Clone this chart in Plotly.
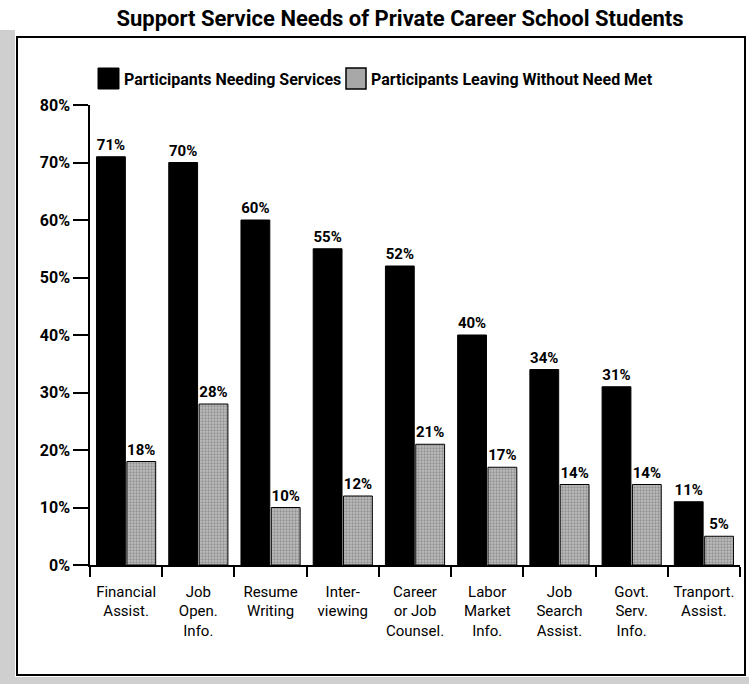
import plotly.graph_objects as go

# Categories (multi-line axis labels) and the two survey series, in percent
categories = [
    "Financial<br>Assist.",
    "Job<br>Open.<br>Info.",
    "Resume<br>Writing",
    "Inter-<br>viewing",
    "Career<br>or Job<br>Counsel.",
    "Labor<br>Market<br>Info.",
    "Job<br>Search<br>Assist.",
    "Govt.<br>Serv.<br>Info.",
    "Tranport.<br>Assist.",
]
needing_services = [71, 70, 60, 55, 52, 40, 34, 31, 11]
leaving_unmet = [18, 28, 10, 12, 21, 17, 14, 14, 5]

series_names = ["Participants Needing Services", "Participants Leaving Without Need Met"]
title_text = "Support Service Needs of Private Career School Students"
y_ticks = [0, 10, 20, 30, 40, 50, 60, 70, 80]

FIG_W, FIG_H = 749, 684
M_L, M_R, M_T, M_B = 90, 9, 105, 119
PLOT_W = FIG_W - M_L - M_R
PLOT_H = FIG_H - M_T - M_B

FONT = "Liberation Sans Narrow, Arial Narrow, Roboto, Liberation Sans, sans-serif"


def px_x(px):
    return (px - M_L) / PLOT_W


def px_y(py):
    return (FIG_H - M_B - py) / PLOT_H


label_font = dict(family=FONT, size=15, color="black", weight="bold")

fig = go.Figure()
fig.add_trace(go.Bar(
    name=series_names[0],
    x=categories,
    y=needing_services,
    marker=dict(color="black", line=dict(color="black", width=1)),
    text=[f"{v}%" for v in needing_services],
    textposition="outside",
    outsidetextfont=label_font,
    constraintext="none",
    cliponaxis=False,
))
fig.add_trace(go.Bar(
    name=series_names[1],
    x=categories,
    y=leaving_unmet,
    marker=dict(
        color="#b4b4b4",
        line=dict(color="black", width=1),
        pattern=dict(shape=".", fgcolor="#666666", bgcolor="#bdbdbd", size=3, solidity=0.45),
    ),
    text=[f"{v}%" for v in leaving_unmet],
    textposition="outside",
    outsidetextfont=label_font,
    constraintext="none",
    cliponaxis=False,
))

shapes = []
# scanned halftone border along the left and bottom edges
shapes.append(dict(type="rect", xref="paper", yref="paper",
                   x0=px_x(0), x1=px_x(15), y0=px_y(684), y1=px_y(30),
                   fillcolor="#cfcfcf", line=dict(width=0), layer="below"))
shapes.append(dict(type="rect", xref="paper", yref="paper",
                   x0=px_x(0), x1=px_x(749), y0=px_y(684), y1=px_y(677),
                   fillcolor="#cfcfcf", line=dict(width=0), layer="below"))
# chart frame
shapes.append(dict(type="rect", xref="paper", yref="paper",
                   x0=px_x(17), x1=px_x(745), y0=px_y(675), y1=px_y(37),
                   line=dict(color="black", width=2), fillcolor="rgba(0,0,0,0)"))
# legend swatches
shapes.append(dict(type="rect", xref="paper", yref="paper",
                   x0=px_x(98), x1=px_x(119), y0=px_y(89), y1=px_y(68),
                   fillcolor="black", line=dict(color="black", width=1)))
shapes.append(dict(type="rect", xref="paper", yref="paper",
                   x0=px_x(346), x1=px_x(366), y0=px_y(89), y1=px_y(68),
                   fillcolor="#a8a8a8", line=dict(color="black", width=1.5)))

legend_font = dict(family=FONT, size=16, color="black", weight="bold")
annotations = [
    dict(text=series_names[0], xref="paper", yref="paper",
         x=px_x(122), y=px_y(79), xanchor="left", yanchor="middle", showarrow=False,
         font=legend_font),
    dict(text=series_names[1], xref="paper", yref="paper",
         x=px_x(369), y=px_y(79), xanchor="left", yanchor="middle", showarrow=False,
         font=legend_font),
]

fig.update_layout(
    width=FIG_W,
    height=FIG_H,
    margin=dict(l=M_L, r=M_R, t=M_T, b=M_B, pad=0),
    paper_bgcolor="white",
    plot_bgcolor="white",
    showlegend=False,
    barmode="group",
    bargap=0.16,
    bargroupgap=0.05,
    title=dict(
        text=title_text,
        x=400 / FIG_W, xanchor="center",
        y=1 - 18 / FIG_H, yanchor="middle",
        font=dict(family=FONT, size=22, color="black", weight="bold"),
    ),
    xaxis=dict(
        type="category",
        showline=True, linecolor="black", linewidth=1.5,
        ticks="outside", tickson="boundaries", ticklen=10, tickcolor="black", tickwidth=1.5,
        ticklabelstandoff=12,
        tickfont=dict(family=FONT, size=15, color="black"),
        showgrid=False, zeroline=False,
    ),
    yaxis=dict(
        range=[0, 80],
        tickvals=y_ticks,
        ticktext=[f"{v}%" for v in y_ticks],
        showline=True, linecolor="black", linewidth=1.5,
        ticks="outside", ticklen=15, tickcolor="black", tickwidth=1.5,
        tickfont=dict(family=FONT, size=16, color="black", weight="bold"),
        showgrid=False, zeroline=False,
    ),
    shapes=shapes,
    annotations=annotations,
)

fig.write_html("out.html")
